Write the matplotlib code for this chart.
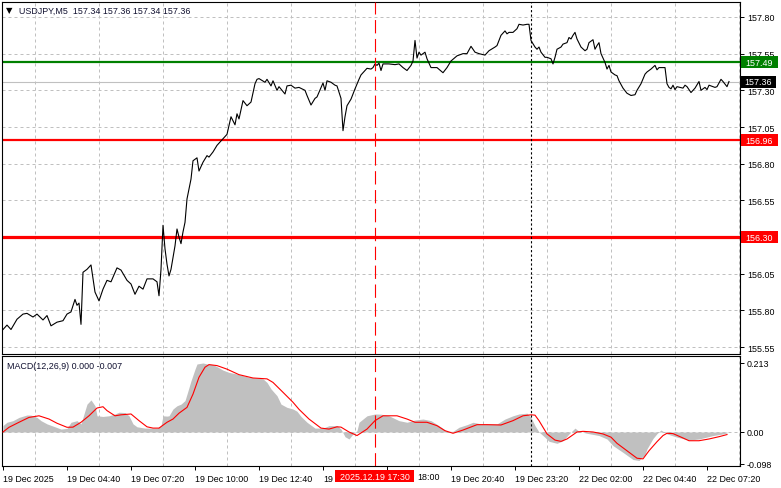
import matplotlib
matplotlib.use("Agg")
import matplotlib.pyplot as plt
from matplotlib.patches import Rectangle
from matplotlib.ticker import MultipleLocator, FixedLocator

plt.rcParams["font.family"] = ["Liberation Sans", "DejaVu Sans"]

# ------------------------------
# data (bar number: 0 = 19 Dec 02:00, M5 bars)
# ------------------------------
price_bar = [0, 2, 4, 7, 10, 12, 15, 17, 20, 22, 24, 27, 30, 32, 34, 36, 37, 38, 39, 40,
             42, 44, 46, 48, 50, 52, 54, 57, 59, 62, 64, 66, 68, 70, 72, 75, 77, 78, 79, 80,
             81, 82, 83, 84, 86, 87, 88, 89, 90, 91, 92, 94, 95, 97, 98, 100, 102, 103, 105, 107,
             110, 112, 114, 116, 117, 118, 120, 122, 124, 126, 127, 128, 131, 132, 134, 135, 137, 138, 141, 142,
             144, 146, 148, 151, 152, 154, 156, 157, 160, 161, 162, 164, 166, 167, 169, 170, 171, 172, 174, 176,
             178, 179, 181, 182, 184, 185, 186, 187, 188, 189, 190, 193, 196, 198, 200, 202, 204, 205, 206, 207,
             208, 209, 211, 212, 214, 217, 220, 222, 224, 227, 230, 232, 234, 236, 238, 241, 243, 246, 247, 249,
             251, 252, 253, 255, 257, 258, 260, 262, 263, 264, 266, 267, 268, 269, 271, 272, 274, 275, 276, 277,
             279, 280, 282, 283, 284, 285, 286, 287, 289, 291, 292, 293, 295, 296, 297, 298, 299, 301, 302, 303,
             304, 306, 307, 308, 310, 312, 314, 316, 317, 319, 321, 322, 324, 326, 327, 328, 329, 331, 332, 333,
             334, 335, 336, 337, 340, 341, 342, 344, 346, 348, 349, 351, 352, 353, 356, 357, 359, 360, 362, 363]
close = [155.67, 155.70, 155.67, 155.74, 155.775, 155.78, 155.755, 155.775, 155.735, 155.765, 155.695, 155.72, 155.73, 155.775, 155.79, 155.875, 155.835, 155.85, 155.705, 156.06,
         156.08, 156.11, 155.925, 155.865, 155.945, 156.005, 155.995, 156.09, 156.075, 156.005, 155.98, 155.91, 155.965, 155.945, 156.015, 156.015, 155.995, 155.90, 156.08, 156.38,
         156.22, 156.115, 156.035, 156.08, 156.24, 156.355, 156.30, 156.255, 156.335, 156.40, 156.56, 156.695, 156.82, 156.84, 156.75, 156.81, 156.855, 156.845, 156.88, 156.925,
         156.97, 157.00, 157.12, 157.065, 157.14, 157.105, 157.23, 157.195, 157.22, 157.345, 157.375, 157.38, 157.355, 157.375, 157.33, 157.365, 157.30, 157.325, 157.275, 157.33,
         157.335, 157.315, 157.32, 157.30, 157.265, 157.20, 157.245, 157.255, 157.35, 157.30, 157.365, 157.355, 157.335, 157.33, 157.245, 157.025, 157.12, 157.195, 157.24, 157.31,
         157.375, 157.405, 157.435, 157.45, 157.445, 157.455, 157.48, 157.47, 157.485, 157.435, 157.48, 157.48, 157.475, 157.48, 157.455, 157.435, 157.47, 157.50, 157.64, 157.52,
         157.56, 157.54, 157.56, 157.515, 157.455, 157.455, 157.42, 157.455, 157.50, 157.535, 157.55, 157.55, 157.60, 157.56, 157.55, 157.54, 157.57, 157.595, 157.605, 157.675,
         157.705, 157.685, 157.695, 157.695, 157.72, 157.75, 157.745, 157.75, 157.75, 157.64, 157.595, 157.58, 157.595, 157.56, 157.525, 157.525, 157.515, 157.48, 157.525, 157.58,
         157.595, 157.615, 157.625, 157.66, 157.65, 157.675, 157.695, 157.65, 157.595, 157.57, 157.58, 157.625, 157.645, 157.58, 157.605, 157.625, 157.55, 157.49, 157.445, 157.47,
         157.425, 157.405, 157.40, 157.365, 157.315, 157.28, 157.265, 157.27, 157.30, 157.345, 157.41, 157.425, 157.445, 157.47, 157.44, 157.455, 157.455, 157.455, 157.345, 157.32,
         157.31, 157.335, 157.305, 157.325, 157.315, 157.335, 157.325, 157.285, 157.315, 157.36, 157.30, 157.32, 157.305, 157.335, 157.32, 157.325, 157.375, 157.36, 157.325, 157.36]

hist_bar = [0, 2, 5, 8, 12, 14, 17, 19, 22, 26, 29, 32, 34, 37, 39, 41, 42, 44, 46, 47,
            50, 53, 56, 58, 61, 63, 65, 67, 71, 74, 77, 79, 80, 82, 83, 85, 87, 89, 91, 92,
            94, 96, 97, 100, 102, 105, 107, 110, 113, 117, 120, 123, 127, 130, 132, 134, 137, 139, 142, 145,
            147, 149, 152, 156, 160, 163, 167, 169, 171, 173, 175, 177, 178, 182, 186, 189, 193, 198, 202, 206,
            210, 214, 218, 222, 225, 228, 232, 235, 239, 243, 247, 251, 255, 258, 262, 264, 266, 268, 271, 273,
            277, 280, 283, 286, 288, 292, 298, 302, 305, 310, 315, 318, 321, 322, 325, 327, 329, 332, 337, 343,
            348, 355, 360, 362]
macd_hist = [0.020, 0.030, 0.035, 0.045, 0.0525, 0.052, 0.045, 0.035, 0.025, 0.016, 0.009, 0.011, 0.030, 0.035, 0.025, 0.066, 0.086, 0.099, 0.081, 0.050,
             0.048, 0.050, 0.0556, 0.061, 0.060, 0.050, 0.025, 0.016, 0.012, 0.012, 0.012, 0.019, 0.050, 0.049, 0.050, 0.071, 0.081, 0.086, 0.097, 0.117,
             0.158, 0.194, 0.210, 0.213, 0.210, 0.208, 0.2016, 0.191, 0.184, 0.179, 0.174, 0.169, 0.1667, 0.164, 0.153, 0.133, 0.112, 0.086, 0.076, 0.071,
             0.064, 0.048, 0.030, 0.012, 0.012, 0.0195, 0.0195, 0.009, -0.0145, -0.0216, -0.006, 0.004, 0.030, 0.050, 0.0556, 0.055, 0.050, 0.035, 0.030, 0.037,
             0.040, 0.035, 0.0195, 0.002, 0.002, 0.0145, 0.0226, 0.030, 0.025, 0.025, 0.025, 0.040, 0.050, 0.0556, 0.058, 0.045, 0.0195, 0.0, -0.0165, -0.0287,
             -0.035, -0.027, -0.006, 0.012, 0.002, -0.004, -0.011, -0.0216, -0.042, -0.063, -0.085, -0.088, -0.070, -0.052, -0.020, -0.005, 0.006, -0.006, -0.016, -0.025,
             -0.0216, -0.011, -0.006, -0.003]

sig_bar = [0, 3, 8, 13, 18, 23, 27, 32, 35, 39, 43, 47, 50, 52, 56, 59, 64, 68, 72, 75,
           78, 82, 85, 88, 92, 95, 98, 101, 103, 107, 112, 118, 125, 132, 135, 140, 145, 148, 153, 159,
           163, 167, 169, 173, 177, 182, 186, 190, 197, 202, 206, 212, 217, 221, 225, 230, 237, 242, 249, 255,
           260, 264, 266, 268, 272, 276, 279, 282, 287, 290, 295, 300, 304, 307, 312, 317, 320, 323, 327, 330,
           332, 335, 340, 343, 348, 353, 358, 362]
macd_signal = [0.0, 0.0145, 0.030, 0.045, 0.050, 0.040, 0.027, 0.0145, 0.015, 0.030, 0.050, 0.074, 0.078, 0.066, 0.050, 0.053, 0.0556, 0.035, 0.016, 0.012,
               0.012, 0.030, 0.040, 0.058, 0.076, 0.117, 0.169, 0.200, 0.208, 0.205, 0.194, 0.177, 0.1667, 0.164, 0.153, 0.1225, 0.0917, 0.070, 0.040, 0.012,
               0.009, 0.016, 0.015, 0.0, -0.011, 0.009, 0.035, 0.050, 0.050, 0.040, 0.030, 0.030, 0.0195, 0.004, -0.004, 0.006, 0.0226, 0.0226, 0.0216, 0.035,
               0.050, 0.053, 0.052, 0.035, -0.006, -0.025, -0.029, -0.0216, 0.0, 0.002, 0.0, -0.006, -0.016, -0.035, -0.058, -0.081, -0.083, -0.058, -0.030, -0.011,
               -0.004, -0.005, -0.0185, -0.027, -0.027, -0.0216, -0.0145, -0.008]

price_ticks = [157.80, 157.55, 157.30, 157.05, 156.80, 156.55, 156.30, 156.05, 155.80, 155.55]
time_tick_bar = [0, 32, 64, 96, 128, 160, 192, 224, 256, 288, 320, 352]
# labels at 160 and 192 are mostly hidden under the event tag: only "19" and "18:00" show
time_tick_lbl = ["19 Dec 2025", "19 Dec 04:40", "19 Dec 07:20", "19 Dec 10:00", "19 Dec 12:40", "19",
                 "", "19 Dec 20:40", "19 Dec 23:20", "22 Dec 02:00", "22 Dec 04:40", "22 Dec 07:20"]
hidden_tail = "18:00"

resistance = 157.49
supports = [156.96, 156.30]
last_price = 157.36
event_bar, event_lbl = 186, "2025.12.19 17:30"
week_break_bar = 264

# ------------------------------
# figure
# ------------------------------
W, H = 781, 489
fig = plt.figure(figsize=(W / 100, H / 100), dpi=100)
fig.patch.set_facecolor("white")

ax = fig.add_axes([2 / W, 1 - 355 / H, 738 / W, 352 / H])
ax2 = fig.add_axes([2 / W, 1 - 467 / H, 738 / W, 110 / H], sharex=ax)

FS = 6.4
GRID = dict(color="#c0c0c0", lw=0.72, linestyle=(0, (3, 3)))

for a in (ax, ax2):
    for s in a.spines.values():
        s.set_color("black")
        s.set_linewidth(0.8)
    a.yaxis.tick_right()
    a.tick_params(axis="y", length=3, width=0.7, pad=2, labelsize=FS, colors="black")
    a.xaxis.set_minor_locator(MultipleLocator(16))
    a.grid(True, which="minor", axis="x", **GRID)

ax.set_xlim(-0.5, 368.5)
ax.set_ylim(155.503, 157.902)
ax.set_yticks(price_ticks)
ax.set_yticklabels([f"{v:.2f}" for v in price_ticks])
ax.grid(True, which="major", axis="y", **GRID)
ax.tick_params(axis="x", which="both", length=0, labelbottom=False)

# levels
ax.axhline(last_price, color="#c0c0c0", lw=0.8, zorder=1)
ax.axhline(resistance, color="#008000", lw=1.6, zorder=2)
ax.axhline(supports[0], color="#ff0000", lw=1.6, zorder=2)
ax.axhline(supports[1], color="#ff0000", lw=2.3, zorder=2)

ax.plot(price_bar, close, color="black", lw=0.8, zorder=3)

# macd panel
ax2.set_ylim(-0.105, 0.2346)
ax2.fill_between(hist_bar, 0, macd_hist, color="#c0c0c0", lw=0, zorder=1)
ax2.plot(sig_bar, macd_signal, color="#ff0000", lw=0.8, zorder=3)
ax2.axhline(0, zorder=2, **GRID)
ax2.set_yticks([0.213, 0.0, -0.098])
ax2.set_yticklabels(["0.213", "0.00", "-0.098"])

ax2.xaxis.set_major_locator(FixedLocator(time_tick_bar))
ax2.set_xticklabels(time_tick_lbl)
ax2.tick_params(axis="x", which="major", length=3, width=0.7, pad=3, labelsize=FS, colors="black")
ax2.tick_params(axis="x", which="minor", length=0)
for t in ax2.get_xticklabels():
    t.set_ha("left")

# event / session separators
for a in (ax, ax2):
    a.axvline(event_bar, color="#ff0000", lw=0.8, linestyle=(0, (12, 5)), zorder=4)
    a.axvline(week_break_bar, color="black", lw=0.8, linestyle=(0, (2, 2)), zorder=4)

# price tags on the right scale
def price_tag(value, color, w=37):
    _, yp = ax.transData.transform((0, value))
    yf = yp / fig.bbox.height
    h = 12 / H
    fig.patches.append(Rectangle((741 / W, yf - h / 2), w / W, h, transform=fig.transFigure,
                                 facecolor=color, edgecolor="none", zorder=5))
    fig.text((741 + w / 2) / W, yf, f"{value:.2f}", ha="center", va="center",
             fontsize=FS, color="white", zorder=6)

price_tag(resistance, "#008000")
price_tag(last_price, "black", w=35)
price_tag(supports[0], "#ff0000")
price_tag(supports[1], "#ff0000")

# event label on the time scale
ex, _ = ax2.transData.transform((event_bar, 0))
ex = ex / fig.bbox.width
fig.patches.append(Rectangle((ex - 40 / W, 1 - 483 / H), 79 / W, 12 / H, transform=fig.transFigure,
                             facecolor="#ff0000", edgecolor="none", zorder=5))
fig.text(ex, 1 - 477.5 / H, event_lbl, ha="center", va="center", fontsize=FS, color="white", zorder=6)
fig.text(ex + 42 / W, 1 - 477.5 / H, hidden_tail, ha="left", va="center", fontsize=FS, color="black")

# headers
fig.text(6 / W, 1 - 11 / H, "\u25bc", fontsize=6, color="black", va="center", ha="left",
         family=["DejaVu Sans"])
fig.text(19 / W, 1 - 11 / H, "USDJPY,M5  157.34 157.36 157.34 157.36", fontsize=FS,
         color="#101030", va="center", ha="left")
fig.text(7 / W, 1 - 366.5 / H, "MACD(12,26,9) 0.000 -0.007", fontsize=FS,
         color="#101030", va="center", ha="left")

fig.savefig("out.png", dpi=100, facecolor="white")
